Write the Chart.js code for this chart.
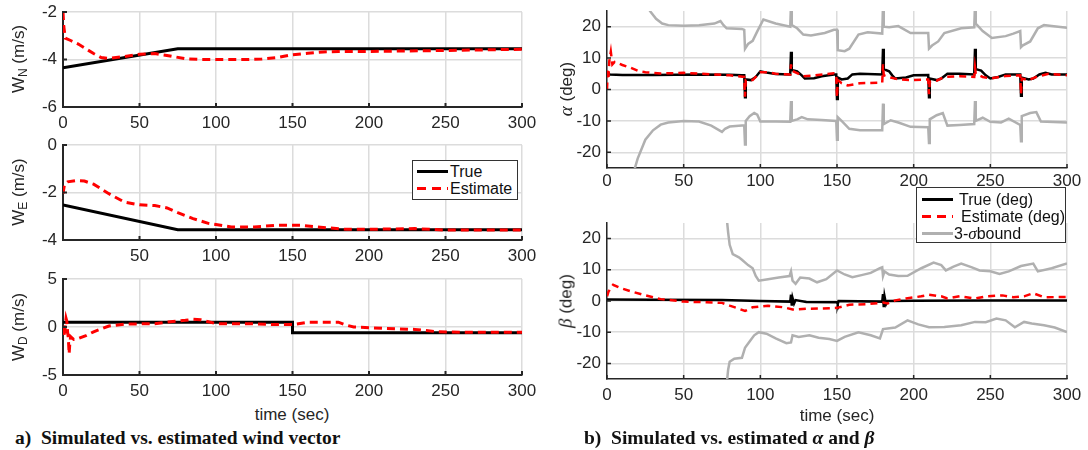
<!DOCTYPE html>
<html>
<head>
<meta charset="utf-8">
<script src="https://cdn.jsdelivr.net/npm/chart.js@4"></script>
<style>
body{margin:0;background:#fff}
#fig{position:relative;width:1088px;height:450px;overflow:hidden;background:#fff;font-family:"Liberation Sans",Arial,Helvetica,sans-serif;color:#262626}
canvas{position:absolute}
.ytitle{position:absolute;transform:translate(-50%,-50%) rotate(-90deg);white-space:nowrap;font-size:17px;line-height:18px}
.ytitle sub{font-size:12px;vertical-align:-3px}
.gr{font-family:"Liberation Serif","Times New Roman",serif;font-style:italic;font-size:19px}
.xtitle{position:absolute;transform:translate(-50%,-50%);font-size:17px;white-space:nowrap}
.cap{position:absolute;font-family:"Liberation Serif","Times New Roman",serif;font-weight:bold;font-size:19.5px;color:#111;white-space:nowrap}
.leg{position:absolute;background:#fff;border:1px solid #333;box-sizing:border-box;font-size:16px;color:#111}
.row{position:absolute;left:0;height:17px;display:flex;align-items:center;white-space:nowrap}
.sw{display:inline-block;width:31px;height:3px}
</style>
</head>
<body>
<div id="fig">
  <div class="ytitle" style="left:21px;top:59px">W<sub>N</sub> (m/s)</div>
  <div class="ytitle" style="left:21px;top:192px">W<sub>E</sub> (m/s)</div>
  <div class="ytitle" style="left:21px;top:327px">W<sub>D</sub> (m/s)</div>
  <div class="ytitle" style="left:566px;top:89px"><span class="gr">α</span> (deg)</div>
  <div class="ytitle" style="left:566px;top:301px"><span class="gr">β</span> (deg)</div>
  <div class="xtitle" style="left:292px;top:415px">time (sec)</div>
  <div class="xtitle" style="left:837px;top:416px">time (sec)</div>
  <div class="cap" style="left:15px;top:427px">a)&nbsp; Simulated vs. estimated wind vector</div>
  <div class="cap" style="left:584px;top:427px">b)&nbsp; Simulated vs. estimated <i>α</i> and <i>β</i></div>

  <div class="leg" style="left:412px;top:160px;width:106px;height:40px">
    <div class="row" style="top:2px"><span class="sw" style="margin:0 2px 0 4px;background:#000"></span>True</div>
    <div class="row" style="top:19px"><span class="sw" style="margin:0 2px 0 4px;background:repeating-linear-gradient(to right,#f00 0 9px,transparent 9px 15px)"></span>Estimate</div>
  </div>
  <div class="leg" style="left:916px;top:187px;width:150px;height:56px">
    <div class="row" style="top:3px"><span class="sw" style="margin:0 6px 0 5px;background:#000"></span>True (deg)</div>
    <div class="row" style="top:20px"><span class="sw" style="margin:0 8px 0 5px;background:repeating-linear-gradient(to right,#f00 0 9px,transparent 9px 15px)"></span>Estimate (deg)</div>
    <div class="row" style="top:37px"><span class="sw" style="margin:0 1px 0 5px;background:#b0b0b0"></span>3-<span class="gr" style="font-size:17px">σ</span>bound</div>
  </div>
</div>
<script>
// ---- data (time in sec, value) ----
const xTicks = [0, 50, 100, 150, 200, 250, 300];
const wnTicks = [-6, -4, -2];
const weTicks = [-4, -2, 0];
const wdTicks = [-5, 0, 5];
const angTicks = [-20, -10, 0, 10, 20];

const wnTrue = [[0, -4.35], [75, -3.55], [300, -3.55]];
const wnEst = [[0, -2.0], [0.5, -2.6], [1.5, -3.1], [5, -3.2], [10, -3.35], [15, -3.55], [20, -3.75], [25, -3.92],
  [30, -3.95], [40, -3.88], [50, -3.78], [60, -3.75], [70, -3.85], [80, -3.97], [90, -4.0], [100, -4.0], [120, -4.0],
  [130, -3.98], [140, -3.92], [150, -3.8], [160, -3.74], [170, -3.68], [180, -3.66], [200, -3.66], [250, -3.62], [300, -3.57]];

const weTrue = [[0, -2.52], [75, -3.57], [300, -3.57]];
const weEst = [[0, -2.05], [1, -1.65], [3, -1.55], [8, -1.5], [14, -1.52], [20, -1.65], [30, -2.05], [40, -2.4],
  [50, -2.52], [60, -2.55], [68, -2.65], [75, -2.85], [85, -3.1], [95, -3.3], [110, -3.45], [125, -3.45], [140, -3.38],
  [155, -3.38], [170, -3.47], [185, -3.55], [200, -3.55], [230, -3.52], [250, -3.58], [300, -3.58]];

const wdTrue = [[0, 0.5], [150, 0.5], [150, -0.6], [300, -0.6]];
const wdEst = [[0, 0], [0.5, -0.4], [1, -1], [1.5, 0.2], [2, 0.9], [2.5, 0.6], [3, -0.5], [3.5, -1.2], [4, -2.8],
  [4.5, -1.6], [5, -1.0], [7, -1.3], [10, -1.2], [15, -0.9], [20, -0.5], [25, -0.2], [30, 0.1], [40, 0.3], [60, 0.35],
  [70, 0.55], [80, 0.7], [85, 0.8], [90, 0.75], [95, 0.55], [100, 0.35], [120, 0.35], [140, 0.25], [150, 0.25],
  [152, 0.3], [160, 0.5], [180, 0.5], [185, 0.2], [190, 0.0], [210, -0.15], [230, -0.25], [245, -0.5], [260, -0.55], [300, -0.55]];

const alphaTrue = [[0, 5], [2, 4.8], [10, 4.6], [30, 4.6], [60, 4.8], [80, 4.7], [88, 4.5], [89.5, 4.5], [90, -2.5],
  [90.5, 3.2], [94, 3.0], [97, 4.0], [100, 5.8], [105, 5.3], [110, 4.9], [119.5, 4.8], [120, 12], [120.5, 6.2], [124, 5.8],
  [127, 4.5], [129, 3.5], [135, 3.6], [140, 4.2], [148, 4.8], [149.5, 4.8], [150, -3], [150.5, 3.8], [153, 3.2], [157, 3.5],
  [160, 4.8], [165, 5.0], [179.5, 4.8], [180, 13], [180.5, 6.5], [184, 5.8], [186, 4.5], [188, 3.5], [195, 3.8], [200, 4.5],
  [209.5, 4.6], [210, -2.5], [210.5, 3.5], [215, 3.0], [218, 3.5], [222, 5.0], [230, 5.0], [239.5, 4.8], [240, 13],
  [240.5, 6.5], [244, 6.0], [247, 4.5], [250, 3.5], [255, 4.0], [260, 4.8], [269.5, 4.8], [270, -2], [270.5, 3.8],
  [275, 3.2], [278, 3.5], [282, 4.8], [286, 5.3], [290, 4.8], [300, 4.8]];
const alphaEst = [[0, 0], [0.5, 6], [1, 4], [1.5, 9], [2.5, 12], [3.5, 8], [5, 8.8], [10, 7.8], [15, 7], [20, 6],
  [25, 5.5], [35, 5.1], [50, 5.3], [70, 4.8], [80, 4.5], [89.5, 4.0], [90, -2.3], [90.5, 3.0], [95, 3.0], [100, 5.5],
  [105, 5.5], [110, 5.0], [119.5, 4.8], [120, 8], [120.5, 6], [125, 5], [128, 4.2], [135, 4.5], [148, 5.2], [149.5, 5],
  [150, -2.5], [150.5, 3], [153, 2.0], [157, 1.3], [165, 2.0], [179.5, 2.2], [180, 8], [180.5, 4.5], [185, 3.8], [190, 3.2],
  [200, 3.0], [209.5, 3.2], [210, -1.5], [210.5, 2.5], [215, 2.8], [220, 4.0], [230, 4.2], [239.5, 4.0], [240, 7],
  [240.5, 5], [245, 4.0], [250, 3.5], [260, 4.3], [269.5, 4.5], [270, -1.5], [270.5, 3.5], [275, 3.0], [280, 4.0],
  [288, 5.0], [300, 4.5]];
const alphaUp = [[26, 28], [28, 25], [32, 22.5], [36, 21], [40, 20.5], [50, 20.3], [60, 20.5], [70, 21], [74, 21.8],
  [76, 20.5], [78, 19.5], [88, 19.3], [89.5, 19], [90, 13], [92, 14.5], [95, 15.5], [98, 18.5], [102, 22.3], [110, 21],
  [119.5, 20], [120, 27], [120.5, 20.5], [124, 19.5], [128, 17.5], [133, 17.2], [142, 18], [148, 19], [150, 19],
  [150.5, 12.5], [155, 12.2], [158, 13], [164, 17.5], [170, 18.2], [179.5, 17.8], [180, 27], [180.5, 20], [184, 19.8],
  [190, 20.2], [198, 18], [209.5, 18], [210, 13], [212, 14], [216, 15.3], [220, 18], [231, 19.5], [239.5, 19.8], [240, 27],
  [240.5, 21], [245, 18.6], [251, 16.4], [260, 17], [265, 17.8], [269.5, 18.6], [270, 13.5], [271, 14], [276, 15.3],
  [281, 19.5], [285, 20.5], [290, 20.2], [300, 19.7]];
const alphaLo = [[17, -27], [20, -22], [25, -16], [30, -13], [35, -11.2], [40, -10.5], [50, -10], [60, -10.2], [68, -11.5],
  [75, -13.5], [77, -12.5], [80, -11.8], [88, -11.5], [89.5, -11.5], [90, -17.5], [90.5, -10], [93, -8.5], [96, -7.5],
  [98, -8], [100, -10.2], [110, -10.2], [119.5, -10.3], [120, -3.7], [120.5, -10], [124, -9.5], [127, -8.8], [131, -9.5],
  [140, -9.7], [149.5, -10], [150, -16], [150.5, -8.8], [153, -10], [158, -12.5], [165, -13], [179.5, -13], [180, -4.5],
  [180.5, -11], [185, -9.8], [190, -10.5], [198, -11.9], [209.5, -12], [210, -17], [210.5, -9.5], [215, -8.2], [219, -7.5],
  [222, -11.5], [230, -11.3], [239.5, -11], [240, -3.7], [240.5, -10], [245, -9], [250, -10.3], [257, -10.5], [262, -9.3],
  [269.5, -11.3], [270, -16.5], [270.5, -8.5], [276, -7.5], [280, -7.2], [283, -10.2], [300, -10.5]];

const betaTrue = [[0, 0.5], [30, 0.4], [75, 0.3], [100, 0.0], [119.5, -0.2], [120, 2], [120.5, -1.5], [121, 1],
  [122, -0.8], [123, 0.3], [130, -0.3], [150, -0.4], [150.5, -1], [151, 0], [179.5, -0.2], [180, 2.2], [180.5, -2],
  [181, 1.5], [182, -1], [183, 0], [200, 0.1], [250, 0.2], [300, 0.2]];
const betaEst = [[0, 1.5], [1, 3], [4, 5.2], [8, 4.3], [15, 3.2], [25, 1.8], [35, 0.6], [50, -0.2], [65, -0.4], [75, -0.6],
  [80, -1.5], [85, -2.3], [90, -3.2], [95, -2], [105, -1.5], [115, -2], [122, -2.8], [130, -2.5], [140, -2.4], [150, -2.2],
  [158, -1.2], [170, -1.0], [180, -0.5], [183, -0.8], [188, 0.2], [195, 0.8], [205, 1.5], [210, 2], [218, 1.5], [222, 0.8],
  [230, 1.5], [240, 0.8], [248, 1.5], [258, 1.8], [265, 1.2], [272, 1.5], [278, 2.5], [285, 1.2], [300, 1.3]];
const betaUp = [[78, 27], [79, 22], [80, 18], [82, 15], [86, 14], [88, 13.2], [92, 11.5], [95, 10.5], [97, 8], [99, 6.5],
  [105, 7], [112, 7.5], [119, 8], [120, 9.5], [121, 6.5], [123, 5.5], [126, 7.5], [132, 7.2], [137, 6], [143, 7], [150, 9.8],
  [155, 8.5], [160, 7.6], [166, 8.3], [172, 9], [178, 10.5], [179.5, 10.8], [180, 8], [181, 9.5], [184, 8.5], [190, 8],
  [196, 8.1], [205, 10.5], [213, 12.3], [218, 11.5], [221, 9.8], [226, 11], [231, 12], [238, 10.8], [243, 9.8], [250, 9.5],
  [256, 8.7], [262, 9.5], [270, 11.2], [278, 12], [281, 9.5], [290, 10.5], [300, 12]];
const betaLo = [[78, -27], [79, -22], [80, -19.5], [83, -18.5], [88, -18.2], [90, -15], [93, -13], [96, -11], [99, -10],
  [104, -10.5], [110, -12], [117, -13.5], [120, -13.3], [121, -11], [125, -11.5], [132, -11], [138, -11.8], [145, -12.2],
  [150, -12.8], [155, -11.5], [164, -10], [172, -11], [178, -12], [180, -9], [183, -8.8], [188, -8.5], [196, -6.2],
  [203, -7.5], [210, -8.4], [220, -8.3], [231, -7.8], [240, -6.7], [247, -6.8], [254, -5.6], [260, -6.2], [266, -8.4],
  [272, -6.7], [277, -7.2], [285, -7.8], [292, -8.5], [300, -10]];

// ---- drawing ----
const AX = '#262626', GRID = '#dcdcdc', GRAY = '#b0b0b0';
const FONT = {family: '"Liberation Sans", Arial, Helvetica, sans-serif', size: 17};
const YW = 60, PT = 10, PR = 24;
const fig = document.getElementById('fig');

// small inward tick marks, matlab style
const inTicks = {
  id: 'inTicks',
  afterDraw(chart, args, opts) {
    const {ctx, chartArea: a, scales: {x, y}} = chart;
    ctx.save();
    ctx.strokeStyle = AX;
    ctx.lineWidth = opts.w;
    ctx.beginPath();
    x.ticks.forEach(t => {
      const px = x.getPixelForValue(t.value);
      ctx.moveTo(px, a.bottom); ctx.lineTo(px, a.bottom - 4);
    });
    y.ticks.forEach(t => {
      const py = y.getPixelForValue(t.value);
      ctx.moveTo(a.left, py); ctx.lineTo(a.left + 4, py);
    });
    ctx.stroke();
    ctx.restore();
  }
};

function line(pts, color, width, dash, order) {
  return {
    data: pts.map(p => ({x: p[0], y: p[1]})),
    borderColor: color, borderWidth: width, borderDash: dash || [],
    pointRadius: 0, fill: false, tension: 0, order: order
  };
}

function panel(area, yMin, yMax, yTicks, sets, o) {
  const cv = document.createElement('canvas');
  const w = YW + area.r - area.l + PR, h = PT + area.b - area.t + o.xh;
  cv.width = w; cv.height = h;
  cv.style.left = (area.l - YW) + 'px';
  cv.style.top = (area.t - PT) + 'px';
  fig.insertBefore(cv, fig.firstChild);
  new Chart(cv, {
    type: 'line',
    data: {datasets: sets},
    options: {
      responsive: false, animation: false, devicePixelRatio: 1,
      layout: {padding: {top: PT, right: PR, left: 0, bottom: 0}},
      plugins: {legend: {display: false}, tooltip: {enabled: false}, inTicks: {w: o.axisW}},
      scales: {
        x: {
          type: 'linear', min: 0, max: 300,
          afterBuildTicks: s => { s.ticks = xTicks.map(v => ({value: v})); },
          afterFit: s => { s.height = o.xh; s.paddingLeft = 0; s.paddingRight = 0; },
          grid: {color: GRID, lineWidth: 1.5, drawTicks: false},
          border: {color: AX, width: o.axisW},
          ticks: {padding: o.xpad, color: AX, font: FONT, maxRotation: 0, autoSkip: false,
            callback: v => (o.hideZero && v === 0) ? '' : String(v)}
        },
        y: {
          type: 'linear', min: yMin, max: yMax,
          afterBuildTicks: s => { s.ticks = yTicks.map(v => ({value: v})); },
          afterFit: s => { s.width = YW; s.paddingTop = 0; s.paddingBottom = 0; },
          grid: {color: GRID, lineWidth: 1.5, drawTicks: false},
          border: {color: AX, width: o.axisW},
          ticks: {padding: 6, color: AX, font: FONT, autoSkip: false, callback: v => String(v)}
        }
      }
    },
    plugins: [inTicks]
  });
}

const L = {axisW: 2, xh: 30, xpad: 6};
panel({l: 63, r: 522, t: 12, b: 107}, -6, -2, wnTicks,
  [line(wnEst, '#f00', 3, [8, 5], 0), line(wnTrue, '#000', 3, [], 1)], L);
panel({l: 63, r: 522, t: 145, b: 240}, -4, 0, weTicks,
  [line(weEst, '#f00', 3, [8, 5], 0), line(weTrue, '#000', 3, [], 1)], Object.assign({}, L, {hideZero: true}));
panel({l: 63, r: 522, t: 279, b: 375}, -5, 5, wdTicks,
  [line(wdEst, '#f00', 3, [8, 5], 0), line(wdTrue, '#000', 3, [], 1)], L);

const R = {axisW: 1.5, xh: 30, xpad: 3};
panel({l: 607, r: 1067, t: 11, b: 168}, -25, 25, angTicks,
  [line(alphaEst, '#f00', 2.5, [7, 5], 0), line(alphaTrue, '#000', 2.5, [], 1),
   line(alphaUp, GRAY, 2.5, [], 2), line(alphaLo, GRAY, 2.5, [], 2)], R);
panel({l: 607, r: 1067, t: 223, b: 379}, -25, 25, angTicks,
  [line(betaEst, '#f00', 2.5, [7, 5], 0), line(betaTrue, '#000', 2.5, [], 1),
   line(betaUp, GRAY, 2.5, [], 2), line(betaLo, GRAY, 2.5, [], 2)], Object.assign({}, R, {xpad: 6}));
</script>
</body>
</html>
